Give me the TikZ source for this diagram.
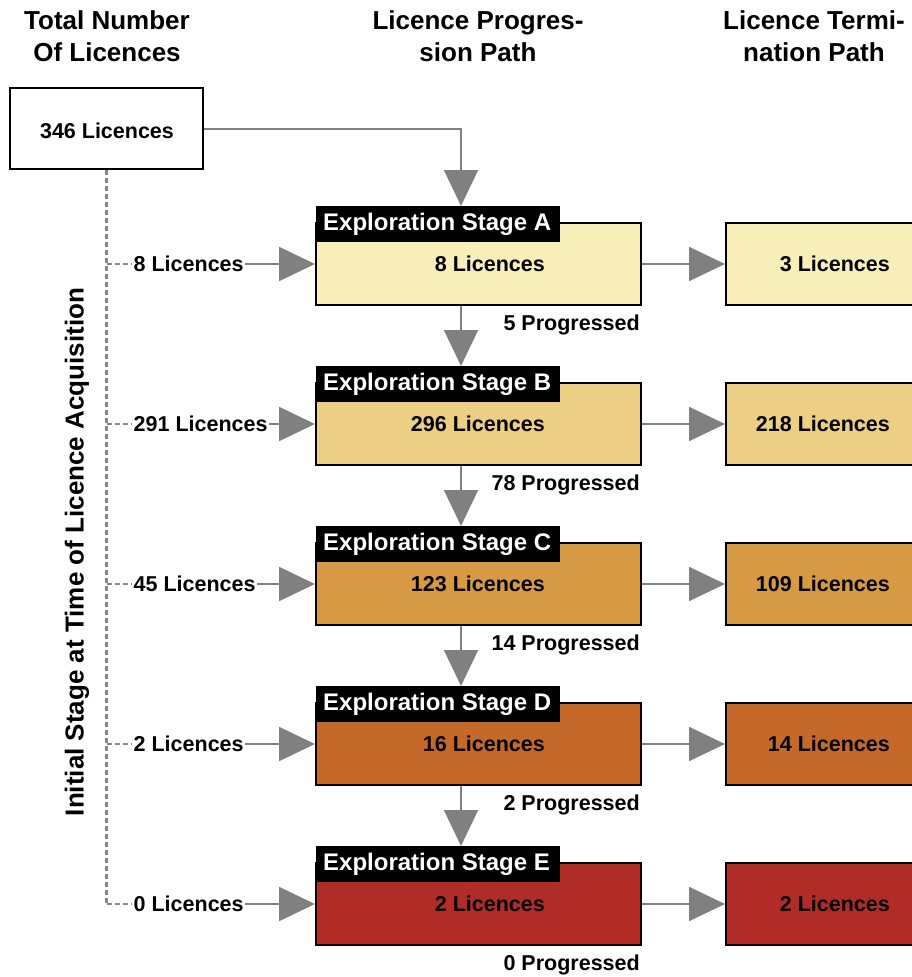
\documentclass[tikz,border=0pt]{standalone}
\usepackage{fontspec}
\setmainfont{Liberation Sans}
\usetikzlibrary{arrows.meta}
\definecolor{cA}{HTML}{F8EEB9}
\definecolor{cB}{HTML}{EDCE85}
\definecolor{cC}{HTML}{D69A44}
\definecolor{cD}{HTML}{C4692A}
\definecolor{cE}{HTML}{B12C27}
\definecolor{arrgray}{HTML}{808080}
\definecolor{dashgray}{HTML}{888888}
\begin{document}
\begin{tikzpicture}[x=1pt,y=-1pt,
  font=\bfseries\fontsize{21.5}{26}\selectfont,
  hdr/.style={font=\bfseries\fontsize{26}{32}\selectfont, align=center, inner sep=0},
  box/.style={draw=black, line width=2pt, inner sep=0, minimum height=82pt},
  stagelab/.style={fill=black, text=white, anchor=north west, inner xsep=7pt, inner ysep=0pt,
    minimum height=36pt, font=\bfseries\fontsize{24}{28}\selectfont},
  txt/.style={inner sep=0},
  garrow/.style={draw=arrgray, line width=2pt, -{Triangle[length=36pt,width=34pt]}},
  dashline/.style={draw=dashgray, line width=2.2pt, dash pattern=on 5pt off 3pt}]
\useasboundingbox (0,0) rectangle (911,977);
% headers
\node[hdr] (h1) at (107,36) {Total Number\\Of Licences};
\node[hdr] (h2) at (478,36) {Licence Progres-\\sion Path};
\node[hdr] (h3) at (814,36) {Licence Termi-\\nation Path};
% total box
\node[box, minimum width=193pt, minimum height=81pt] (top) at (106.5,128.5) {};
\node[txt] (toptxt) at (107,131) {346 Licences};
\coordinate (vx) at (461,0);
% rotated axis label
\node[hdr, rotate=90] (axis) at (77,552) {Initial Stage at Time of Licence Acquisition};
\foreach \i/\L/\col/\inl/\main/\term/\prog in
  {0/A/cA/8/8/3/5, 1/B/cB/291/296/218/78, 2/C/cC/45/123/109/14, 3/D/cD/2/16/14/2, 4/E/cE/0/2/2/0}{
  \pgfmathsetmacro\yc{264+160*\i}
  \pgfmathsetmacro\yl{206+160*\i}
  \pgfmathsetmacro\yp{325+160*\i}
  \node[box, fill=\col, minimum width=325pt] (s\L) at (478.5,\yc) {};
  \node[txt, anchor=east] (m\L) at (545,\yc) {\main\ Licences};
  \node[stagelab] (l\L) at (316,\yl) {\makebox[230pt][l]{Exploration Stage \L}};
  \node[box, fill=\col, minimum width=218pt] (t\L) at (835,\yc) {};
  \node[txt, anchor=east] (tt\L) at (890,\yc) {\term\ Licences};
  \node[txt, anchor=east] (p\L) at (640,\yp) {\prog\ Progressed};
  \node[inner xsep=1.5pt, inner ysep=0, anchor=west] (in\L) at (132,\yc) {\inl\ Licences};
  \draw[garrow] (in\L.east) -- (s\L.west);
  \draw[garrow] (s\L.east) -- (t\L.west);
  \draw[dashline] (top.south |- in\L.west) -- (in\L.west);
}
\draw[dashline] (top.south) -- (top.south |- inE.west);
\draw[garrow] (top.east) -| (lA.north -| vx);
\draw[garrow] (sA.south -| vx) -- (lB.north -| vx);
\draw[garrow] (sB.south -| vx) -- (lC.north -| vx);
\draw[garrow] (sC.south -| vx) -- (lD.north -| vx);
\draw[garrow] (sD.south -| vx) -- (lE.north -| vx);
\end{tikzpicture}
\end{document}
